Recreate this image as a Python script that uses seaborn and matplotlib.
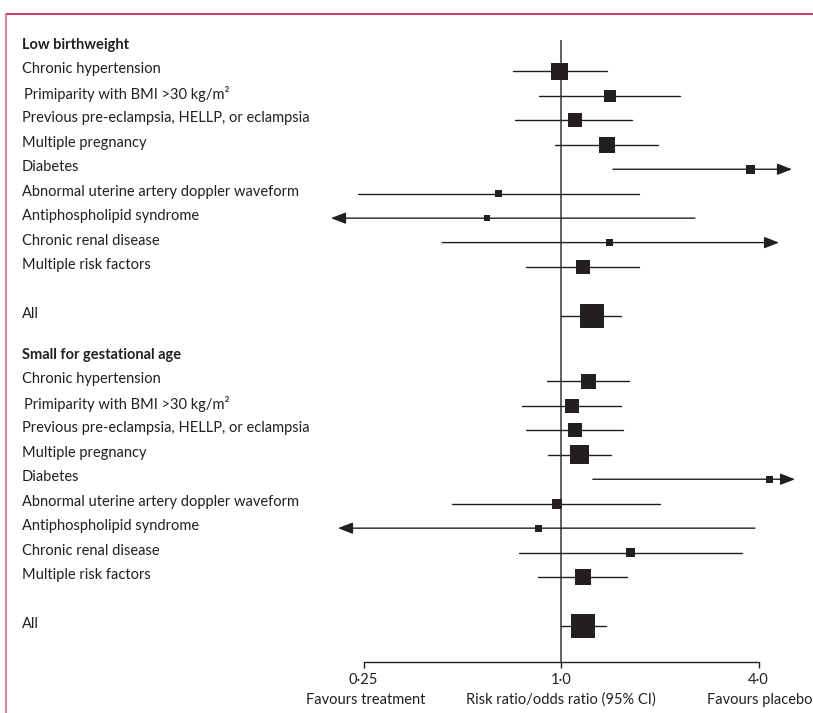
import numpy as np
import pandas as pd
import matplotlib
matplotlib.use("Agg")
import matplotlib.pyplot as plt
import matplotlib.transforms as mtransforms
import seaborn as sns

# rows of each outcome group
factors = [
    "Chronic hypertension",
    "Primiparity with BMI >30 kg/m\u00b2",
    "Previous pre-eclampsia, HELLP, or eclampsia",
    "Multiple pregnancy",
    "Diabetes",
    "Abnormal uterine artery doppler waveform",
    "Antiphospholipid syndrome",
    "Chronic renal disease",
    "Multiple risk factors",
    "All",
]

# low birthweight: estimate, lower, upper (arrow rows: limit drawn as arrow tip)
lbw_est = [0.99, 1.41, 1.10, 1.38, 3.79, 0.645, 0.595, 1.41, 1.17, 1.24]
lbw_lo = [0.714, 0.857, 0.724, 0.959, 1.44, 0.24, 0.199, 0.434, 0.782, 1.0]
lbw_hi = [1.38, 2.31, 1.65, 1.98, 5.06, 1.73, 2.56, 4.62, 1.73, 1.52]
lbw_arrow = ["", "", "", "", "hi", "", "lo", "hi", "", ""]
lbw_weight = [17, 12, 14, 16, 9, 7, 6, 7, 14, 24]

# small for gestational age
sga_est = [1.21, 1.08, 1.10, 1.14, 4.32, 0.972, 0.854, 1.63, 1.17, 1.17]
sga_lo = [0.906, 0.76, 0.782, 0.913, 1.25, 0.465, 0.209, 0.745, 0.851, 1.0]
sga_hi = [1.61, 1.52, 1.55, 1.42, 5.17, 2.0, 3.90, 3.56, 1.59, 1.37]
sga_arrow = ["", "", "", "", "hi", "", "lo", "", "", ""]
sga_weight = [15, 14, 14, 19, 7, 10, 7, 9, 16, 24]

groups = ["Low birthweight", "Small for gestational age"]
tick_vals = [0.25, 1.0, 4.0]
tick_labels = ["0\u00b725", "1\u00b70", "4\u00b70"]

W, H = 813, 713
PX_PER_DOUBLING = 98.75
X_ONE = 561
ROW = 24.45
INK = "#231f20"


def px2x(px):
    return 2 ** ((px - X_ONE) / PX_PER_DOUBLING)


rows = []
for g, base, est, lo, hi, arr, wt in [
    (groups[0], 45, lbw_est, lbw_lo, lbw_hi, lbw_arrow, lbw_weight),
    (groups[1], 355, sga_est, sga_lo, sga_hi, sga_arrow, sga_weight),
]:
    for i, f in enumerate(factors):
        k = i + 1 if f != "All" else 11
        rows.append(dict(group=g, factor=f, est=est[i], lo=lo[i], hi=hi[i],
                         arrow=arr[i], weight=wt[i], y=base + ROW * k + 2,
                         ty=base + ROW * k, base=base))
df = pd.DataFrame(rows)
# square side in px -> marker area in pt^2
df["area"] = (df["weight"] * 0.72) ** 2

sns.set_style("white")
plt.rcParams["font.family"] = ["Lato", "DejaVu Sans"]

fig = plt.figure(figsize=(W / 100, H / 100), dpi=100)
ax = fig.add_axes([0, 0, 1, 1])
ax.set_xscale("log", base=2)
ax.set_xlim(px2x(0), px2x(W))
ax.set_ylim(H, 0)
ax.axis("off")

# reference line and bottom axis
ax.vlines(1.0, 40, 662, color="#555555", lw=1.3, zorder=1)
ax.plot([tick_vals[0], tick_vals[-1]], [662, 662], color=INK, lw=1.0)
for v, lab in zip(tick_vals, tick_labels):
    ax.vlines(v, 662, 668, color=INK, lw=1.0)
    ax.text(v, 680, lab, ha="center", va="center", fontsize=10.5, color=INK)
ax.text(px2x(425), 700, "Favours treatment", ha="right", va="center", fontsize=10.5, color=INK)
ax.text(1.0, 700, "Risk ratio/odds ratio (95% CI)", ha="center", va="center", fontsize=10.5, color=INK)
ax.text(px2x(812), 700, "Favours placebo", ha="right", va="center", fontsize=10.5, color=INK)

# confidence intervals
for _, r in df.iterrows():
    if r["arrow"] == "hi":
        ax.annotate("", xy=(r["hi"], r["y"]), xytext=(r["lo"], r["y"]),
                    arrowprops=dict(arrowstyle="-|>,head_length=0.9,head_width=0.35",
                                    color=INK, lw=1.0, shrinkA=0, shrinkB=0))
    elif r["arrow"] == "lo":
        ax.annotate("", xy=(r["lo"], r["y"]), xytext=(r["hi"], r["y"]),
                    arrowprops=dict(arrowstyle="-|>,head_length=0.9,head_width=0.35",
                                    color=INK, lw=1.0, shrinkA=0, shrinkB=0))
    else:
        ax.plot([r["lo"], r["hi"]], [r["y"], r["y"]], color=INK, lw=1.0, zorder=2)

sns.scatterplot(data=df, x="est", y="y", size="area", marker="s",
                sizes=(df["area"].min(), df["area"].max()),
                size_norm=(df["area"].min(), df["area"].max()),
                color=INK, linewidth=0, legend=False, ax=ax, zorder=3)
ax.set_ylim(H, 0)
ax.axis("off")

# row labels
lab_tr = mtransforms.blended_transform_factory(ax.transAxes, ax.transData)
for g, base in [(groups[0], 45), (groups[1], 355)]:
    ax.text(22 / W, base, g, transform=lab_tr, ha="left", va="center",
            fontsize=10.5, fontweight="bold", color=INK)
for _, r in df.iterrows():
    x0 = 24 if r["factor"].startswith("Primiparity") else 22
    ax.text(x0 / W, r["ty"], r["factor"], transform=lab_tr, ha="left", va="center",
            fontsize=10.5, color=INK)

# pink panel frame
fig.add_artist(plt.Line2D([6 / W, 1], [1 - 14 / H, 1 - 14 / H], color="#cc3f6b", lw=1.5))
fig.add_artist(plt.Line2D([6 / W, 6 / W], [1 - 14 / H, 0], color="#d9809c", lw=1.5))

fig.savefig("out.png", dpi=100)
